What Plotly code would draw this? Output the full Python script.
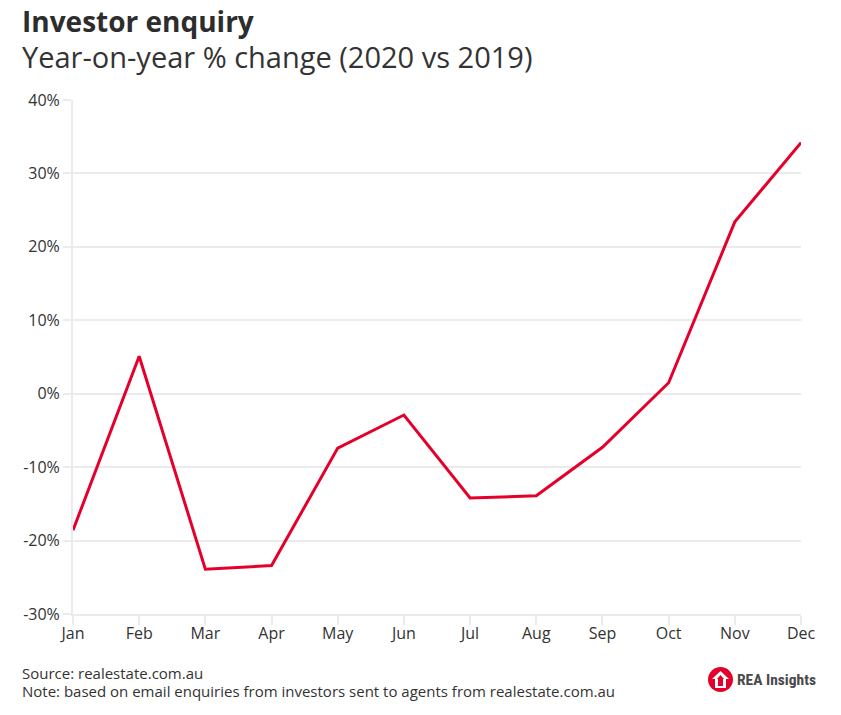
import plotly.graph_objects as go

months = ["Jan", "Feb", "Mar", "Apr", "May", "Jun", "Jul", "Aug", "Sep", "Oct", "Nov", "Dec"]
yoy_change = [-18.6, 5.1, -23.9, -23.4, -7.4, -2.9, -14.2, -13.9, -7.3, 1.5, 23.4, 34.2]
y_ticks = [-30, -20, -10, 0, 10, 20, 30, 40]
y_tick_labels = [f"{v}%" for v in y_ticks]
title_text = "Investor enquiry"
subtitle_text = "Year-on-year % change (2020 vs 2019)"

W, H = 841, 715
L, R, T, B = 73, 40, 100, 101
PW = W - L - R
PH = H - T - B


def px(x):
    return (x - L) / PW


def py(y):
    return (H - B - y) / PH


FONT = "Open Sans"
GRID = "#ebebeb"

fig = go.Figure()
fig.add_trace(go.Scatter(
    x=months, y=yoy_change, mode="lines",
    line=dict(color="#e4002b", width=3),
    hoverinfo="x+y",
))

fig.update_layout(
    width=W, height=H,
    margin=dict(l=L, r=R, t=T, b=B),
    plot_bgcolor="white", paper_bgcolor="white",
    showlegend=False,
    font=dict(family=FONT, color="#333333"),
    xaxis=dict(
        range=[0, 11], showgrid=False,
        showline=True, linecolor=GRID, linewidth=2,
        ticks="outside", ticklen=9, tickcolor=GRID, tickwidth=2,
        ticklabelstandoff=-5,
        tickfont=dict(size=16, color="#333333", family=FONT),
        zeroline=False,
    ),
    yaxis=dict(
        range=[-30, 40], tickvals=y_ticks, ticktext=y_tick_labels,
        showgrid=True, gridcolor=GRID, gridwidth=2,
        showline=True, linecolor=GRID, linewidth=2,
        ticks="outside", ticklen=8, tickcolor=GRID, tickwidth=2,
        tickfont=dict(size=16, color="#333333", family=FONT),
        zeroline=False,
    ),
)

heading = (f"<span style='font-size:28px;color:#2d2d2d'><b>{title_text}</b></span><br>"
           f"<span style='font-size:29px'>{subtitle_text}</span>")

annotations = [
    dict(text=heading, x=px(21), y=py(1), xanchor="left", yanchor="top", align="left",
         font=dict(size=28, color="#333333", family=FONT)),
    dict(text="Source: realestate.com.au", x=px(21), y=py(673), xanchor="left", yanchor="middle",
         font=dict(size=15, color="#333333", family=FONT)),
    dict(text="Note: based on email enquiries from investors sent to agents from realestate.com.au",
         x=px(21), y=py(691), xanchor="left", yanchor="middle",
         font=dict(size=15, color="#333333", family=FONT)),
    dict(text="REA Insights", x=px(736), y=py(680), xanchor="left", yanchor="middle",
         font=dict(size=15.5, color="#4a4a4a", family="Roboto Condensed, Liberation Sans Narrow, Roboto", weight=700)),
]
for a in annotations:
    a.update(xref="paper", yref="paper", showarrow=False, borderpad=0)
fig.update_layout(annotations=annotations)

# logo circle and house
fig.add_shape(type="circle", xref="paper", yref="paper",
              x0=px(708), x1=px(733), y0=py(692), y1=py(667),
              fillcolor="#e4002b", line=dict(width=0))
house = [(720.5, 671), (729, 679), (726, 679), (726, 688), (715, 688), (715, 679), (712, 679)]
path = "M " + " L ".join(f"{px(x)},{py(y)}" for x, y in house) + " Z"
fig.add_shape(type="path", xref="paper", yref="paper", path=path,
              fillcolor="white", line=dict(width=0))
inner = [(720.5, 675), (724, 679), (723, 679), (723, 686), (718, 686), (718, 679), (717, 679)]
path2 = "M " + " L ".join(f"{px(x)},{py(y)}" for x, y in inner) + " Z"
fig.add_shape(type="path", xref="paper", yref="paper", path=path2,
              fillcolor="#e4002b", line=dict(width=0))

fig.write_html("out.html", config={"displayModeBar": False},
               post_script="document.body.style.margin='0';document.body.style.padding='0';")
